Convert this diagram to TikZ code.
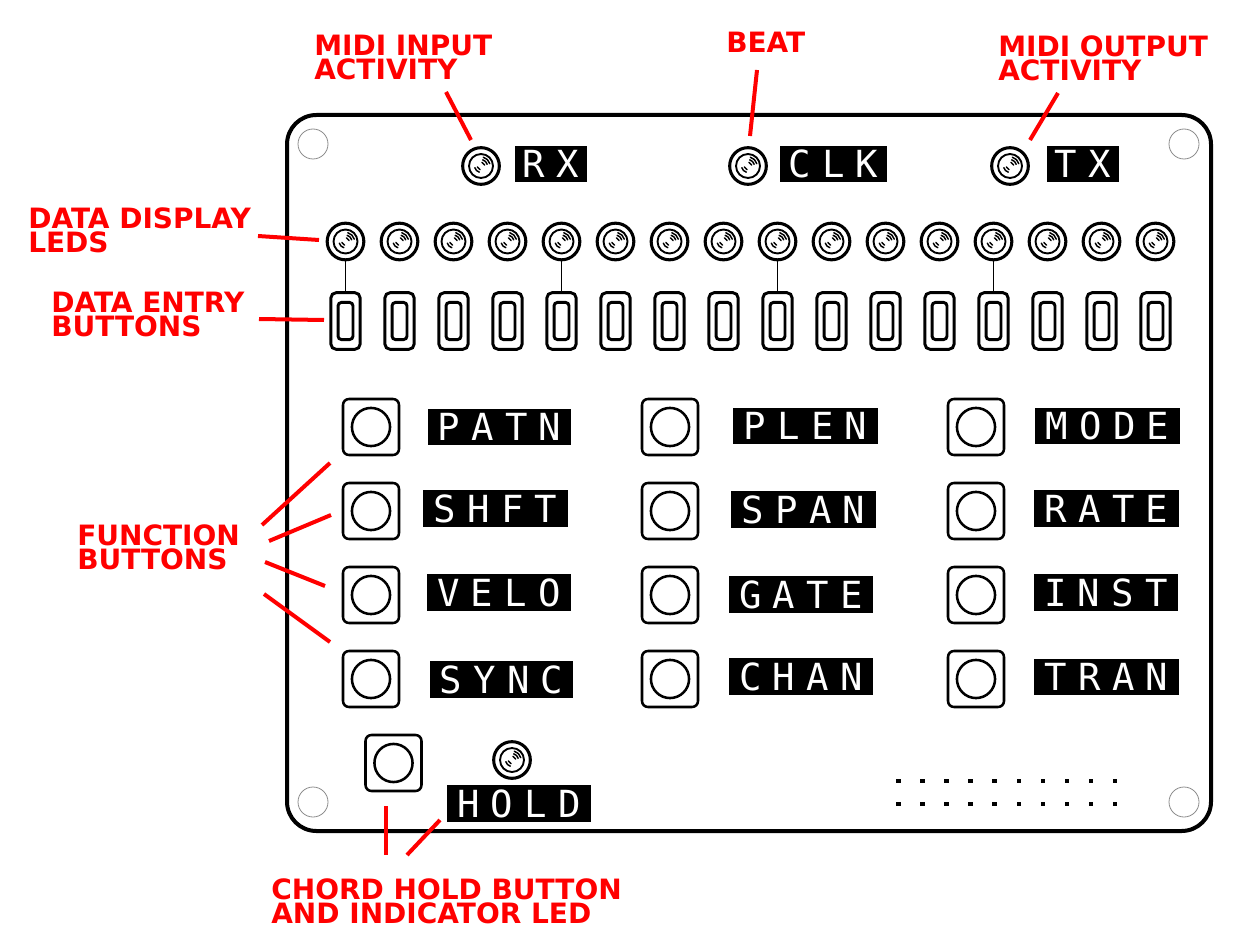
\documentclass[tikz,border=0pt]{standalone}
\usepackage{fontspec}
\setmainfont{DejaVu Sans}
\newfontfamily\lblfont[LetterSpace=30]{DejaVu Sans Mono}
\begin{document}
\begin{tikzpicture}[x=0.75pt,y=-0.75pt,
  board/.style={draw, line width=3pt, rounded corners=22pt, minimum width=693pt, minimum height=537pt, inner sep=0},
  hole/.style={circle, draw=black!45, line width=0.6pt, minimum size=22.5pt, inner sep=0},
  led/.style={circle, draw, line width=2.3pt, minimum size=27.5pt, inner sep=0,
    path picture={
      \coordinate (c) at (path picture bounding box.center);
      \draw[line width=1.4pt] (c) circle (9pt);
      \draw[line width=1.1pt, line cap=round] ([shift={(15:2.8pt)}]c) arc[start angle=15,end angle=75,radius=2.8pt];
      \draw[line width=1.1pt, line cap=round] ([shift={(15:4.8pt)}]c) arc[start angle=15,end angle=75,radius=4.8pt];
      \draw[line width=1.1pt, line cap=round] ([shift={(15:6.8pt)}]c) arc[start angle=15,end angle=75,radius=6.8pt];
      \draw[line width=1.1pt, line cap=round] ([shift={(195:2.8pt)}]c) arc[start angle=195,end angle=255,radius=2.8pt];
      \draw[line width=1.1pt, line cap=round] ([shift={(195:4.8pt)}]c) arc[start angle=195,end angle=255,radius=4.8pt];
    }},
  dbtn/.style={draw, line width=2.2pt, rounded corners=4pt, minimum width=22pt, minimum height=42.5pt, inner sep=0,
    path picture={
      \draw[line width=2.2pt, rounded corners=2.5pt] ([shift={(-5.6pt,-13.9pt)}]path picture bounding box.center) rectangle ++(11.2pt,27.8pt);
    }},
  fbtn/.style={draw, line width=1.9pt, rounded corners=4.5pt, minimum size=42pt, inner sep=0,
    path picture={
      \draw[line width=1.9pt] (path picture bounding box.center) circle (14.3pt);
    }},
  lbl/.style={fill=black, text=white, font=\lblfont\fontsize{28}{28}\selectfont, minimum height=27.5pt, inner sep=0, text depth=0pt},
  ann/.style={text=red, font=\bfseries\fontsize{21}{18}\selectfont, align=left, anchor=north west, inner sep=0},
  redline/.style={draw=red, line width=3pt},
  tick/.style={line width=1.1pt}
]
\useasboundingbox[fill=white] (0,0) rectangle (1240,938);

% board and holes
\node[board] (board) at (749,473) {};
\node[hole] (h1) at (313,144) {};
\node[hole] (h2) at (1184,144) {};
\node[hole] (h3) at (313,802) {};
\node[hole] (h4) at (1184,802) {};

% top LEDs and labels
\node[led] (rxled) at (481,166) {};
\node[led] (clkled) at (748,166) {};
\node[led] (txled) at (1010,166) {};
\node[lbl, minimum width=54pt] (rx) at (551,164) {RX};
\node[lbl, minimum width=80pt] (clk) at (833.5,164) {CLK};
\node[lbl, minimum width=54pt] (tx) at (1083,164) {TX};

% data LEDs and buttons
\foreach \i in {0,...,15} {
  \node[led] (d\i) at ({345.5+54*\i},241.5) {};
  \node[dbtn] (b\i) at ({345.5+54*\i},321) {};
}
\foreach \i in {0,4,8,12} \draw[tick] (d\i) -- (b\i);

% function buttons
\foreach \c/\x in {1/371,2/670,3/976}
  \foreach \r/\y in {1/427,2/511,3/595,4/679}
    \node[fbtn] (f\c\r) at (\x,\y) {};

\node[lbl, minimum width=107pt] (patn) at (499.5,427) {PATN};
\node[lbl, minimum width=109pt] (shft) at (495.5,508.5) {SHFT};
\node[lbl, minimum width=108pt] (velo) at (499,592.5) {VELO};
\node[lbl, minimum width=107pt] (sync) at (501.5,679.5) {SYNC};
\node[lbl, minimum width=109pt] (plen) at (805.5,426) {PLEN};
\node[lbl, minimum width=109pt] (span) at (803.5,509.5) {SPAN};
\node[lbl, minimum width=108pt] (gate) at (801,594.5) {GATE};
\node[lbl, minimum width=108pt] (chan) at (801,676.5) {CHAN};
\node[lbl, minimum width=109pt] (mode) at (1107.5,426) {MODE};
\node[lbl, minimum width=109pt] (rate) at (1106.5,508.5) {RATE};
\node[lbl, minimum width=108pt] (inst) at (1106,592.5) {INST};
\node[lbl, minimum width=109pt] (tran) at (1106.5,677) {TRAN};

% chord hold
\node[fbtn] (hbtn) at (393.5,763) {};
\node[led] (hled) at (512,760) {};
\node[lbl, minimum width=108pt] (hold) at (519,803.5) {HOLD};

% header dots
\foreach \i in {0,...,9} {
  \fill ({896+24.1*\i},778.5) rectangle ++(4.5,4.5);
  \fill ({896+24.1*\i},801.5) rectangle ++(4.5,4.5);
}

% annotations
\node[ann] (tin) at (314,35) {MIDI INPUT\\ACTIVITY};
\node[ann] (tbeat) at (726,32) {BEAT};
\node[ann] (tout) at (998,35) {MIDI OUTPUT\\ACTIVITY};
\node[ann] (tdisp) at (28,207) {DATA DISPLAY\\LEDS};
\node[ann] (tentry) at (51,292) {DATA ENTRY\\BUTTONS};
\node[ann] (tfunc) at (77,524) {FUNCTION\\BUTTONS};
\node[ann] (tchord) at (271,878) {CHORD HOLD BUTTON\\AND INDICATOR LED};

\coordinate (a1) at (446,92);   \coordinate (a2) at (471,140);
\coordinate (b1) at (757,70);   \coordinate (b2) at (750,136);
\coordinate (c1) at (1058,93);  \coordinate (c2) at (1030,140);
\coordinate (e1) at (258,236);  \coordinate (e2) at (319,240);
\coordinate (g1) at (259,319);  \coordinate (g2) at (324,320);
\coordinate (k1) at (262,525);  \coordinate (k2) at (330,463);
\coordinate (l1) at (269,541);  \coordinate (l2) at (331,515);
\coordinate (m1) at (265,562);  \coordinate (m2) at (325,586);
\coordinate (n1) at (264,594);  \coordinate (n2) at (330,642);
\coordinate (p1) at (386,806);  \coordinate (p2) at (386,855);
\coordinate (q1) at (407,855);  \coordinate (q2) at (440,820);
\foreach \s in {a,b,c,e,g,k,l,m,n,p,q} \draw[redline] (\s1) -- (\s2);
\end{tikzpicture}
\end{document}
